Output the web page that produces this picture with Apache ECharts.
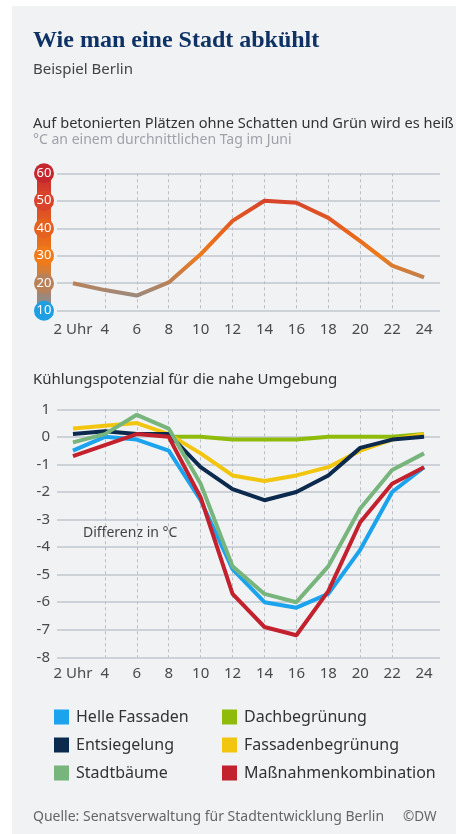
<!DOCTYPE html>
<html><head><meta charset="utf-8">
<script src="https://cdn.jsdelivr.net/npm/echarts@6/dist/echarts.min.js"></script>
<style>
html,body{margin:0;padding:0;background:#fff;width:456px;height:834px;overflow:hidden}
#panel{position:absolute;left:12px;top:6px;width:444px;height:828px;background:#f0f2f4}
#chart{position:absolute;left:0;top:0;width:456px;height:834px}
</style></head><body>
<div id="panel"></div><div id="chart"></div>
<script>
// ---- data ----
const hours = [2, 4, 6, 8, 10, 12, 14, 16, 18, 20, 22, 24];
const tempTicks = [10, 20, 30, 40, 50, 60];
const diffTicks = [1, 0, -1, -2, -3, -4, -5, -6, -7, -8];
const tempJune = [20, 17.5, 15.5, 20.3, 30.5, 42.7, 50, 49.3, 43.8, 35.3, 26.4, 22.1];
const seriesNames = ['Helle Fassaden', 'Dachbegrünung', 'Entsiegelung', 'Fassadenbegrünung', 'Stadtbäume', 'Maßnahmenkombination'];
const helleFassaden = [-0.5, 0, -0.1, -0.5, -2.3, -4.8, -6.0, -6.2, -5.7, -4.1, -2.0, -1.1];
const dachbegruenung = [null, null, null, 0, 0, -0.1, -0.1, -0.1, 0, 0, 0, 0.1];
const entsiegelung = [0.1, 0.2, 0.1, 0.1, -1.1, -1.9, -2.3, -2.0, -1.4, -0.4, -0.1, 0];
const fassadenbegruenung = [0.3, 0.4, 0.5, 0.1, -0.6, -1.4, -1.6, -1.4, -1.1, -0.5, -0.1, 0.1];
const stadtbaeume = [-0.2, 0.1, 0.8, 0.3, -1.7, -4.7, -5.7, -6.0, -4.7, -2.6, -1.2, -0.6];
const kombination = [-0.7, -0.3, 0.1, 0, -2.2, -5.7, -6.9, -7.2, -5.6, -3.1, -1.7, -1.1];

// ---- styles ----
const FONT = 'Noto Sans';
const colors = {
  'Helle Fassaden': '#1ba3ee',
  'Dachbegrünung': '#8fbc0a',
  'Entsiegelung': '#0c2a4e',
  'Fassadenbegrünung': '#f2c60e',
  'Stadtbäume': '#77b57d',
  'Maßnahmenkombination': '#c3212d'
};
const tickColors = {10: '#1f9fe3', 20: '#b7825a', 30: '#ee7a1a', 40: '#e5611f', 50: '#d8432a', 60: '#c6262e'};
const rich = {};
tempTicks.forEach(t => {
  rich['c' + t] = {backgroundColor: tickColors[t], borderRadius: 10, width: 20, height: 20, lineHeight: 20,
    align: 'center', color: '#fff', fontSize: 13, fontFamily: FONT};
});

const pairs = vals => hours.map((h, i) => [h, vals[i]]);

const chart = echarts.init(document.getElementById('chart'), null, {renderer: 'canvas'});

const xAxisBase = (gi, margin) => ({
  type: 'value', gridIndex: gi, min: 1, max: 25,
  axisLine: {show: false},
  axisTick: {show: false, customValues: hours},
  axisLabel: {margin: margin, fontSize: 15, color: '#4a4a4a', fontFamily: FONT, customValues: hours,
    formatter: v => (v === 2 ? '2 Uhr' : String(v))},
  splitLine: {show: true, showMinLine: false, showMaxLine: false,
    lineStyle: {type: [3, 3], color: '#b9bdc5', width: 1}}
});

const bottomData = [helleFassaden, dachbegruenung, entsiegelung, fassadenbegruenung, stadtbaeume, kombination];
const drawOrder = [0, 1, 3, 2, 4, 5];

const option = {
  backgroundColor: 'transparent',
  animation: false,
  graphic: [
    {type: 'text', left: 33, top: 29, style: {text: 'Wie man eine Stadt abkühlt', fill: '#0e3263',
      font: 'bold 24px "Liberation Serif"'}},
    {type: 'text', left: 33, top: 62, style: {text: 'Beispiel Berlin', fill: '#444', font: '15px "Noto Sans"'}},
    {type: 'text', left: 33, top: 116, style: {text: 'Auf betonierten Plätzen ohne Schatten und Grün wird es heiß', fill: '#333', font: '14.6px "Noto Sans"'}},
    {type: 'text', left: 33, top: 133, style: {text: '°C an einem durchnittlichen Tag im Juni', fill: '#9ea2a8', font: '14px "Noto Sans"'}},
    {type: 'text', left: 33, top: 372, style: {text: 'Kühlungspotenzial für die nahe Umgebung', fill: '#333', font: '15px "Noto Sans"'}},
    {type: 'text', left: 83, top: 526, style: {text: 'Differenz in °C', fill: '#444', font: '14px "Noto Sans"'}},
    {type: 'text', left: 33, top: 810, style: {text: 'Quelle: Senatsverwaltung für Stadtentwicklung Berlin', fill: '#666', font: '14px "Noto Sans"'}},
    {type: 'text', left: 403, top: 810, style: {text: '©DW', fill: '#666', font: '13.5px "Noto Sans"'}}
  ],
  legend: [
    {left: 54, top: 709, orient: 'vertical', padding: 0, itemWidth: 15, itemHeight: 15, itemGap: 12, icon: 'rect',
      selectedMode: false, data: [seriesNames[0], seriesNames[2], seriesNames[4]],
      textStyle: {fontSize: 16, color: '#333', fontFamily: FONT, padding: [0, 0, 0, 2]}},
    {left: 222, top: 709, orient: 'vertical', padding: 0, itemWidth: 15, itemHeight: 15, itemGap: 12, icon: 'rect',
      selectedMode: false, data: [seriesNames[1], seriesNames[3], seriesNames[5]],
      textStyle: {fontSize: 16, color: '#333', fontFamily: FONT, padding: [0, 0, 0, 2]}}
  ],
  grid: [
    {left: 57, right: 16, top: 173.3, height: 137.4},
    {left: 57, right: 16, top: 409.3, height: 248}
  ],
  xAxis: [xAxisBase(0, 12), xAxisBase(1, 9)],
  yAxis: [
    {type: 'value', gridIndex: 0, min: 10, max: 60, interval: 10, offset: 13,
      axisLine: {show: true, onZero: false, lineStyle: {width: 14, cap: 'round',
        color: new echarts.graphic.LinearGradient(0, 0, 0, 1, [
          {offset: 0, color: '#c6262e'}, {offset: 0.2, color: '#d8432a'}, {offset: 0.4, color: '#e5611f'},
          {offset: 0.6, color: '#ee7a1a'}, {offset: 0.8, color: '#b7825a'}, {offset: 0.9, color: '#8a8c90'},
          {offset: 1, color: '#1f9fe3'}])}},
      axisTick: {show: false},
      axisLabel: {margin: 0, align: 'center', verticalAlign: 'middle', formatter: v => '{c' + v + '|' + v + '}', rich: rich},
      splitLine: {lineStyle: {color: '#cdd1d8', width: 2}}},
    {type: 'value', gridIndex: 1, min: -8, max: 1, interval: 1,
      axisLine: {show: false}, axisTick: {show: false},
      axisLabel: {margin: 7, fontSize: 15, color: '#4a4a4a', fontFamily: FONT},
      splitLine: {lineStyle: {color: '#cdd1d8', width: 2}}}
  ],
  visualMap: {type: 'continuous', show: false, seriesIndex: 0, dimension: 1, min: 10, max: 60,
    inRange: {color: ['#1f9fe3', '#9a8a80', '#b7825a', '#d27c38', '#ee7a1a', '#ea6e1c', '#e5611f', '#df5325', '#d8432a', '#cf342c', '#c6262e']}},
  series: [
    {type: 'line', name: 'Temperatur', xAxisIndex: 0, yAxisIndex: 0, data: pairs(tempJune), symbol: 'none',
      lineStyle: {width: 4}}
  ].concat(drawOrder.map(i => ({
    type: 'line', name: seriesNames[i], xAxisIndex: 1, yAxisIndex: 1, data: pairs(bottomData[i]),
    symbol: 'none', color: colors[seriesNames[i]],
    itemStyle: {color: colors[seriesNames[i]]},
    lineStyle: {width: 4, color: colors[seriesNames[i]]}
  })))
};
chart.setOption(option);
</script>
</body></html>
